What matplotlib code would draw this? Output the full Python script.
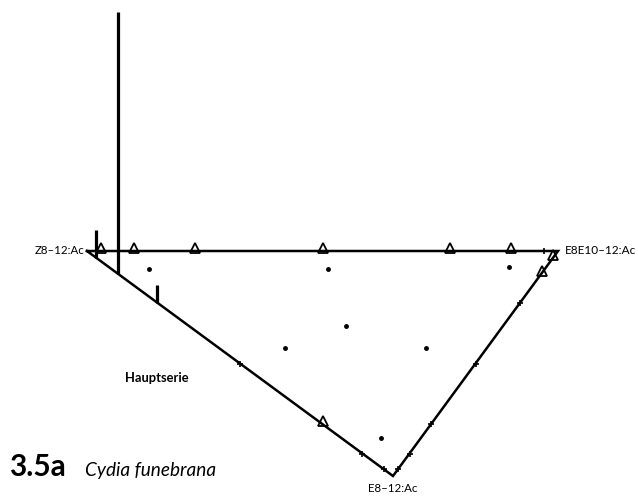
import matplotlib
matplotlib.use("Agg")
from matplotlib import pyplot as plt
import numpy as np

# corner components of the ternary blend
components = ["Z8\u201312:Ac", "E8E10\u201312:Ac", "E8\u201312:Ac"]

# share of the second component along each edge
ratios = [0.03, 0.10, 0.23, 0.50, 0.77, 0.90, 0.97]

# what was found at each ratio: "tri" = open triangle, "tick" = small mark, "bar" = catch
top_marks = ["tri", "tri", "tri", "tri", "tri", "tri", "tick"]      # Z8 -> E8E10
left_marks = ["bar", "bar", "bar", "tick", "tri", "tick", "tick"]   # Z8 -> E8
right_marks = ["tri", "tri", "tick", "tick", "tick", "tick", "tick"]  # E8E10 -> E8

# catches (bar heights) for the bars on the Z8 -> E8 edge
left_catches = [28, 262, 18]

# three-component blends (Z8, E8E10, E8), drawn as dots
blend_z8 = [0.84, 0.46, 0.08, 0.333, 0.43, 0.13, 0.085]
blend_e8e10 = [0.08, 0.46, 0.85, 0.333, 0.14, 0.44, 0.085]
blend_e8 = [0.08, 0.08, 0.07, 0.333, 0.43, 0.43, 0.83]

# projected corner positions of the triangle (page layout)
CORNERS = np.array([[87.0, 251.0], [558.0, 251.0], [393.0, 476.0]])


def to_xy(a, b, c):
	w = np.array([a, b, c], dtype=float)
	w = w / w.sum()
	return w @ CORNERS


def draw_edge(ax, i, j, marks, catches=None):
	k = 0
	for f, m in zip(ratios, marks):
		w = [0.0, 0.0, 0.0]
		w[i] = 1 - f
		w[j] = f
		x, y = to_xy(*w)
		if m == "tri":
			ax.plot(x, y - 3, marker="^", ms=6.5, mfc="none", mec="black", mew=1.3)
		elif m == "tick":
			ax.plot(x, y, marker="+", ms=4.5, color="black", mew=1.2)
		elif m == "bar":
			ax.plot([x, x], [y, y - catches[k]], color="black", lw=2.3, solid_capstyle="butt")
			k += 1


plt.rcParams["font.family"] = ["Lato", "DejaVu Sans"]
fig = plt.figure(figsize=(6.38, 4.96), dpi=100)
ax = fig.add_axes([0, 0, 1, 1])
ax.set_xlim(0, 638)
ax.set_ylim(496, 0)
ax.axis("off")

outline = np.vstack([CORNERS, CORNERS[:1]])
ax.plot(outline[:, 0], outline[:, 1], color="black", lw=1.8, solid_joinstyle="miter")

draw_edge(ax, 0, 1, top_marks)
draw_edge(ax, 0, 2, left_marks, left_catches)
draw_edge(ax, 1, 2, right_marks)

for a, b, c in zip(blend_z8, blend_e8e10, blend_e8):
	x, y = to_xy(a, b, c)
	ax.plot(x, y, marker="o", ms=2.5, color="black")

ax.text(CORNERS[0, 0] - 3, CORNERS[0, 1] - 1, components[0], ha="right", va="center", fontsize=8.3)
ax.text(CORNERS[1, 0] + 7, CORNERS[1, 1] - 1, components[1], ha="left", va="center", fontsize=8.5)
ax.text(CORNERS[2, 0], CORNERS[2, 1] + 7, components[2], ha="center", va="top", fontsize=8.3)

ax.text(125, 378, "Hauptserie", ha="left", va="center", fontsize=9.3, fontweight="bold")
ax.text(9, 476, "3.5a", ha="left", va="baseline", fontsize=21.5, fontweight="bold")
ax.text(85, 476, "Cydia funebrana", ha="left", va="baseline", fontsize=13.7, style="italic")

plt.savefig("out.png", dpi=100)
